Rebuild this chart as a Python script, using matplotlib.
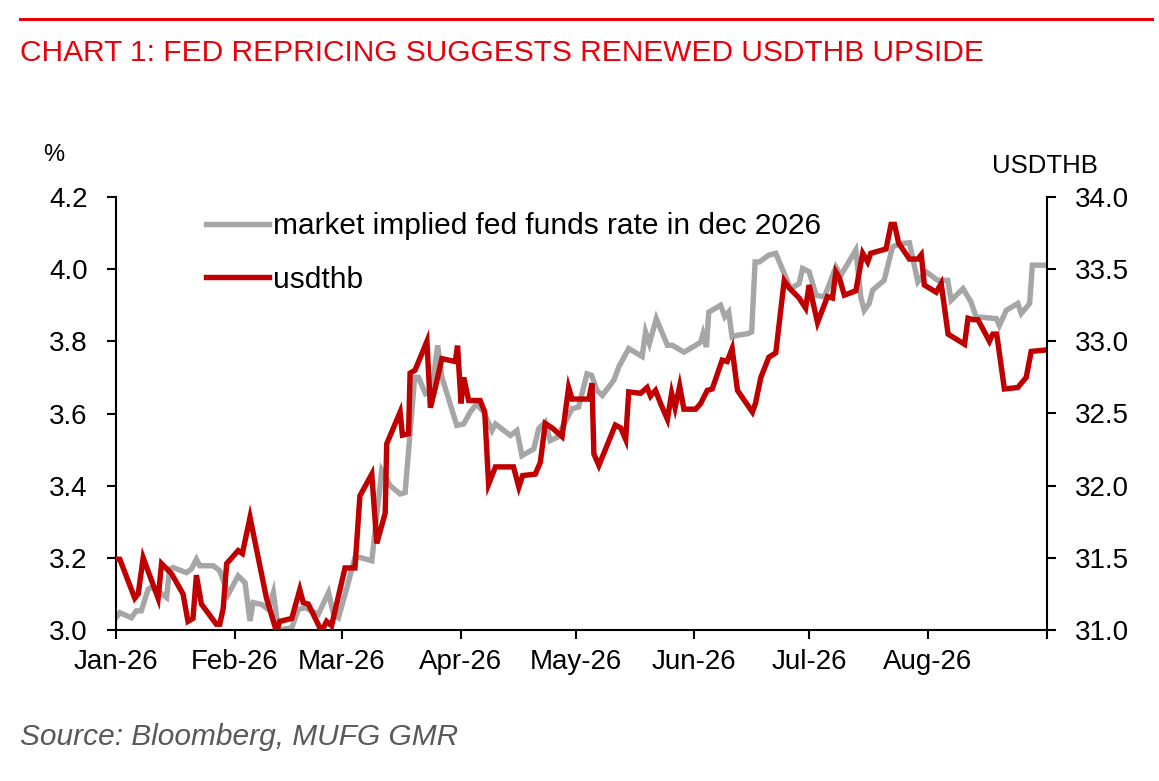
import matplotlib

matplotlib.use("Agg")
import matplotlib.pyplot as plt
from matplotlib.lines import Line2D
import pandas as pd

plt.rcParams["font.family"] = ["Liberation Sans", "DejaVu Sans"]

START = pd.Timestamp("2026-01-01")

# usdthb (right axis), days counted from 1 Jan 2026
thb_days = [0, 1, 4.9, 5.8, 7.1, 11, 11.9, 14.5, 17.5, 18.8, 20.1, 21, 22.3, 26.2, 27.1, 28, 28.9,
            31.9, 33, 35, 39.3, 41.9, 42.8, 45.9, 48, 48.9, 50.2, 53.7, 55, 56.3, 59.8, 62.4, 63.7,
            66.8, 68.1, 70.3, 70.7, 74.2, 74.8, 76.4, 76.8, 78.1, 81.2, 82.1, 83.4, 85.1, 88.6, 89.2,
            90.1, 90.8, 92.1, 95.1, 96.3, 97.3, 99.1, 103.8, 105.2, 106.2, 109.5, 110.8, 112.1, 113.9,
            116.5, 118.2, 119.1, 123.5, 124.3, 124.8, 126.1, 130.4, 131.8, 133.1, 133.9, 137, 138.7,
            139.6, 140.9, 142.2, 144, 145.1, 146, 147.2, 148.3, 151.4, 152.7, 154.4, 155.7, 158.3,
            159.6, 160.9, 162.3, 166.2, 167, 168.4, 170.5, 172.3, 174.5, 175.8, 178.4, 180.1, 181,
            183.2, 185.8, 187.1, 188, 188.9, 190.2, 193.2, 195, 196.3, 197.1, 201.1, 202.4, 203.3,
            204.4, 207.2, 209.4, 210.3, 211.1, 214.2, 215.5, 217.3, 221.6, 222.5, 223.8, 225.1,
            228.1, 229, 230, 232, 235.5, 237.7, 239, 242.9]
thb_vals = [31.49, 31.49, 31.22, 31.25, 31.50, 31.22, 31.46, 31.39, 31.25, 31.06, 31.08, 31.38, 31.18,
            31.04, 31.04, 31.15, 31.46, 31.55, 31.53, 31.78, 31.22, 30.99, 31.06, 31.08, 31.28, 31.19,
            31.18, 30.99, 31.06, 31.03, 31.43, 31.43, 31.93, 32.08, 31.60, 31.81, 32.29, 32.51, 32.35,
            32.36, 32.78, 32.80, 33.00, 32.54, 32.68, 32.88, 32.86, 32.97, 32.57, 32.75, 32.59, 32.59,
            32.51, 32.01, 32.13, 32.13, 31.99, 32.07, 32.08, 32.16, 32.43, 32.40, 32.34, 32.68, 32.60,
            32.60, 32.71, 32.22, 32.14, 32.42, 32.40, 32.32, 32.65, 32.64, 32.68, 32.62, 32.66, 32.57,
            32.46, 32.64, 32.54, 32.69, 32.53, 32.53, 32.57, 32.66, 32.67, 32.87, 32.86, 32.95, 32.66,
            32.51, 32.57, 32.75, 32.89, 32.92, 33.42, 33.37, 33.30, 33.23, 33.39, 33.13, 33.31, 33.30,
            33.48, 33.44, 33.32, 33.35, 33.61, 33.55, 33.61, 33.64, 33.81, 33.81, 33.68, 33.57, 33.57,
            33.60, 33.39, 33.34, 33.40, 33.05, 32.98, 33.16, 33.15, 33.15, 33.00, 33.05, 33.05, 32.67,
            32.68, 32.75, 32.93, 32.94]

# market implied fed funds rate in dec 2026 (left axis, %)
ff_days = [0, 1, 4, 5.3, 6.6, 8.4, 9.2, 11, 13.2, 14, 14.9, 18.4, 19.7, 21, 21.9, 25.4, 27.1, 29.3,
           31.9, 33.7, 35, 35.8, 38, 39.8, 41.1, 42.4, 45.9, 47.6, 49.4, 51.1, 52.8, 55.5, 56.8, 58.1,
           60.2, 62.4, 63.7, 66.8, 69.4, 71.6, 74.2, 75.5, 78, 79, 80.8, 82.5, 84, 85.1, 89, 90.8,
           92.5, 94.2, 96, 98.2, 99.1, 103, 104.7, 106, 109.1, 110.4, 112.1, 113.4, 115.2, 119.1,
           120.8, 123, 124.2, 125.6, 127, 130, 131.3, 133.9, 137.4, 138.3, 139.3, 141.1, 144, 145.3,
           148.3, 151.4, 152.7, 153.3, 154.2, 154.8, 157.9, 159, 160, 160.9, 162.3, 164.9, 166,
           166.9, 168, 170.5, 172.3, 174.5, 176.2, 178.4, 179.3, 181, 182.8, 185, 188, 189.3, 193.2,
           194.5, 195.4, 196.7, 197.6, 200.6, 202.8, 205, 207.2, 209.4, 211.5, 214.6, 217.2, 218.1,
           221.2, 223.3, 224.6, 229.9, 230.7, 232.5, 235.5, 236.4, 238.6, 239.3, 242.5]
ff_vals = [3.034, 3.048, 3.034, 3.053, 3.053, 3.113, 3.118, 3.108, 3.090, 3.169, 3.173, 3.159, 3.169,
           3.196, 3.178, 3.178, 3.164, 3.099, 3.150, 3.131, 3.025, 3.076, 3.071, 3.057, 3.104, 3.000,
           3.006, 3.057, 3.062, 3.053, 3.043, 3.104, 3.043, 3.034, 3.113, 3.201, 3.201, 3.192, 3.442,
           3.400, 3.377, 3.381, 3.700, 3.700, 3.655, 3.664, 3.789, 3.701, 3.567, 3.571, 3.604, 3.627,
           3.604, 3.553, 3.571, 3.539, 3.553, 3.483, 3.502, 3.558, 3.576, 3.525, 3.534, 3.613, 3.618,
           3.710, 3.706, 3.664, 3.650, 3.692, 3.729, 3.780, 3.758, 3.826, 3.794, 3.863, 3.789, 3.789,
           3.770, 3.789, 3.798, 3.821, 3.784, 3.881, 3.900, 3.868, 3.881, 3.812, 3.817, 3.821, 3.826,
           4.020, 4.020, 4.039, 4.044, 3.988, 3.946, 3.960, 4.002, 3.993, 3.928, 3.923, 4.006, 3.983,
           4.053, 3.923, 3.886, 3.905, 3.942, 3.969, 4.062, 4.071, 4.073, 3.965, 3.993, 3.969, 3.969,
           3.914, 3.946, 3.909, 3.868, 3.863, 3.844, 3.886, 3.905, 3.877, 3.905, 4.011, 4.011]

month_ticks = pd.date_range("2026-01-01", "2026-09-01", freq="MS")
month_labels = ["Jan-26", "Feb-26", "Mar-26", "Apr-26", "May-26", "Jun-26", "Jul-26", "Aug-26", ""]
left_ticks = [3.0, 3.2, 3.4, 3.6, 3.8, 4.0, 4.2]
right_ticks = [31.0, 31.5, 32.0, 32.5, 33.0, 33.5, 34.0]

RED = "#C00000"
GREY = "#A6A6A6"
W, H = 1159, 781

thb_dates = START + pd.to_timedelta(thb_days, unit="D")
ff_dates = START + pd.to_timedelta(ff_days, unit="D")

fig = plt.figure(figsize=(W / 100, H / 100), dpi=100)
ax = fig.add_axes([116 / W, 1 - 630 / H, (1046.5 - 116) / W, (630 - 197) / H])
ax2 = ax.twinx()

ax.plot(ff_dates, ff_vals, color=GREY, lw=3.9, solid_joinstyle="miter",
        label="market implied fed funds rate in dec 2026")
ax2.plot(thb_dates, thb_vals, color=RED, lw=3.9, solid_joinstyle="miter", label="usdthb")

ax.set_xlim(month_ticks[0], month_ticks[-1])
ax.set_ylim(3.0, 4.2)
ax2.set_ylim(31.0, 34.0)
ax.set_xticks(month_ticks)
ax.set_xticklabels(month_labels)
ax.set_yticks(left_ticks)
ax.set_yticklabels([f"{v:.1f}" for v in left_ticks])
ax2.set_yticks(right_ticks)
ax2.set_yticklabels([f"{v:.1f}" for v in right_ticks])

for a in (ax, ax2):
    a.spines["top"].set_visible(False)
    for s in ("left", "right", "bottom"):
        a.spines[s].set_linewidth(1.5)
    a.tick_params(direction="out", length=6.5, width=1.5, labelsize=20)
ax.spines["right"].set_visible(False)
ax2.spines["left"].set_visible(False)
ax2.spines["bottom"].set_visible(False)
ax.tick_params(axis="y", pad=14)
ax.tick_params(axis="x", pad=7)
ax2.tick_params(axis="y", pad=14)

handles = ax.get_lines() + ax2.get_lines()
ax2.legend(handles, [h.get_label() for h in handles], loc="upper left",
           bbox_to_anchor=(0.068, 1.027), frameon=False, fontsize=21.5,
           handlelength=2.1, handletextpad=0.15, labelspacing=0.85)

fig.add_artist(Line2D([20 / W, 1152 / W], [1 - 19 / H] * 2, color="#E8000B", lw=2.2))
fig.text(20 / W, 1 - 53 / H, "CHART 1: FED REPRICING SUGGESTS RENEWED USDTHB UPSIDE",
         color="#E8000B", fontsize=21.5, va="center", ha="left")
fig.text(43 / W, 1 - 155 / H, "%", fontsize=17, va="center", ha="left")
fig.text(992 / W, 1 - 166 / H, "USDTHB", fontsize=18.5, va="center", ha="left")
fig.text(20 / W, 1 - 737 / H, "Source: Bloomberg, MUFG GMR", color="#595959",
         fontsize=21.5, style="italic", va="center", ha="left")

fig.savefig("out.png", dpi=100)
